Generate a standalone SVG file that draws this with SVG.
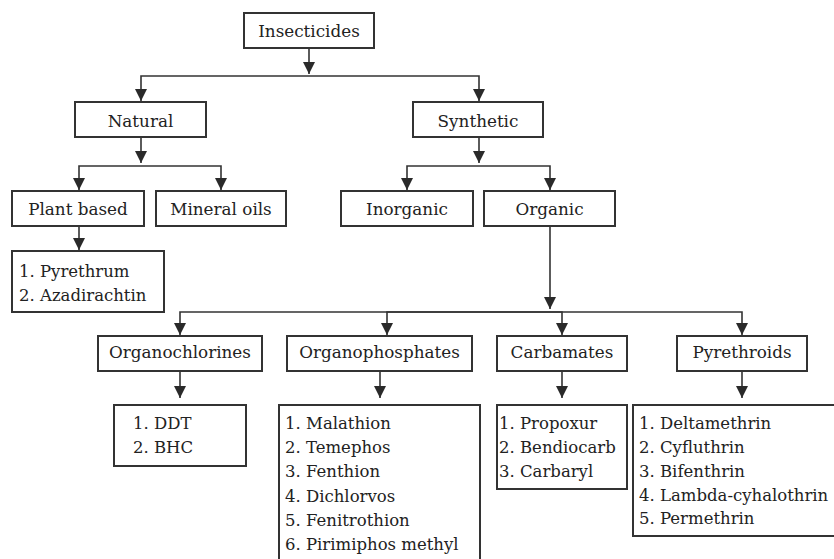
<svg xmlns="http://www.w3.org/2000/svg" width="834" height="559" viewBox="0 0 834 559">
<defs>
<marker id="arr" viewBox="0 0 12 12" refX="12" refY="6" markerWidth="12" markerHeight="12" markerUnits="userSpaceOnUse" orient="auto">
<path d="M0,0 L12,6 L0,12 z" fill="#2a2a2a"/>
</marker>
<style>
.box{fill:#fff;stroke:#333;stroke-width:2}
.lbl{font-family:"DejaVu Serif","Liberation Serif",serif;font-size:16.8px;fill:#222;text-anchor:middle}
.lst{font-family:"DejaVu Serif","Liberation Serif",serif;font-size:16.5px;fill:#222}
.con path{fill:none;stroke:#333;stroke-width:1.6;marker-end:url(#arr)}
</style>
</defs>
<rect width="834" height="559" fill="#fff"/>
<g class="con" id="connectors">
<path d="M309 48 V74"/>
<path d="M309 76 H141 V101"/>
<path d="M309 76 H479 V101"/>
<path d="M141 137 V163"/>
<path d="M141 166 H79 V190"/>
<path d="M141 166 H221 V190"/>
<path d="M479 137 V163"/>
<path d="M479 166 H407 V190"/>
<path d="M479 166 H550 V190"/>
<path d="M79 226 V250"/>
<path d="M550 226 V309"/>
<path d="M550 312 H180 V335"/>
<path d="M550 312 H387 V335"/>
<path d="M550 312 H562 V335"/>
<path d="M550 312 H742 V335"/>
<path d="M180 371 V398"/>
<path d="M380 371 V398"/>
<path d="M562 371 V398"/>
<path d="M742 371 V398"/>
</g>
<g id="insecticides"><rect class="box" x="244" y="13" width="130" height="35"/><text class="lbl" x="309" y="37">Insecticides</text></g>
<g id="natural"><rect class="box" x="75" y="102" width="131" height="35"/><text class="lbl" x="140.5" y="126.5">Natural</text></g>
<g id="synthetic"><rect class="box" x="413" y="102" width="130" height="35"/><text class="lbl" x="478" y="126.5">Synthetic</text></g>
<g id="plant"><rect class="box" x="12" y="191" width="132" height="35"/><text class="lbl" x="78" y="215">Plant based</text></g>
<g id="mineral"><rect class="box" x="156" y="191" width="130" height="35"/><text class="lbl" x="221" y="215">Mineral oils</text></g>
<g id="inorganic"><rect class="box" x="341" y="191" width="132" height="35"/><text class="lbl" x="407" y="215">Inorganic</text></g>
<g id="organic"><rect class="box" x="484" y="191" width="131" height="35"/><text class="lbl" x="549.5" y="215">Organic</text></g>
<g id="plant-list"><rect class="box" x="12" y="251" width="152" height="61"/><text class="lst" x="19" y="277">1. Pyrethrum</text><text class="lst" x="19" y="301">2. Azadirachtin</text></g>
<g id="organochlorines"><rect class="box" x="98" y="336" width="164" height="35"/><text class="lbl" x="180" y="358">Organochlorines</text></g>
<g id="organophosphates"><rect class="box" x="287" y="336" width="185" height="35"/><text class="lbl" x="379.5" y="358">Organophosphates</text></g>
<g id="carbamates"><rect class="box" x="497" y="336" width="130" height="35"/><text class="lbl" x="562" y="358">Carbamates</text></g>
<g id="pyrethroids"><rect class="box" x="677" y="336" width="130" height="35"/><text class="lbl" x="742" y="358">Pyrethroids</text></g>
<g id="oc-list"><rect class="box" x="114" y="405" width="132" height="61"/><text class="lst" x="133" y="429">1. DDT</text><text class="lst" x="133" y="453">2. BHC</text></g>
<g id="op-list"><rect class="box" x="279" y="405" width="201" height="165"/>
<text class="lst" x="285" y="429">1. Malathion</text>
<text class="lst" x="285" y="453.2">2. Temephos</text>
<text class="lst" x="285" y="477.4">3. Fenthion</text>
<text class="lst" x="285" y="501.6">4. Dichlorvos</text>
<text class="lst" x="285" y="525.8">5. Fenitrothion</text>
<text class="lst" x="285" y="550">6. Pirimiphos methyl</text></g>
<g id="cb-list"><rect class="box" x="497" y="405" width="130" height="84"/>
<text class="lst" x="499" y="429">1. Propoxur</text>
<text class="lst" x="499" y="453">2. Bendiocarb</text>
<text class="lst" x="499" y="477">3. Carbaryl</text></g>
<g id="py-list"><rect class="box" x="633" y="405" width="215" height="131"/>
<text class="lst" x="639" y="429">1. Deltamethrin</text>
<text class="lst" x="639" y="453">2. Cyfluthrin</text>
<text class="lst" x="639" y="477">3. Bifenthrin</text>
<text class="lst" x="639" y="500.5">4. Lambda-cyhalothrin</text>
<text class="lst" x="639" y="524">5. Permethrin</text></g>
</svg>
